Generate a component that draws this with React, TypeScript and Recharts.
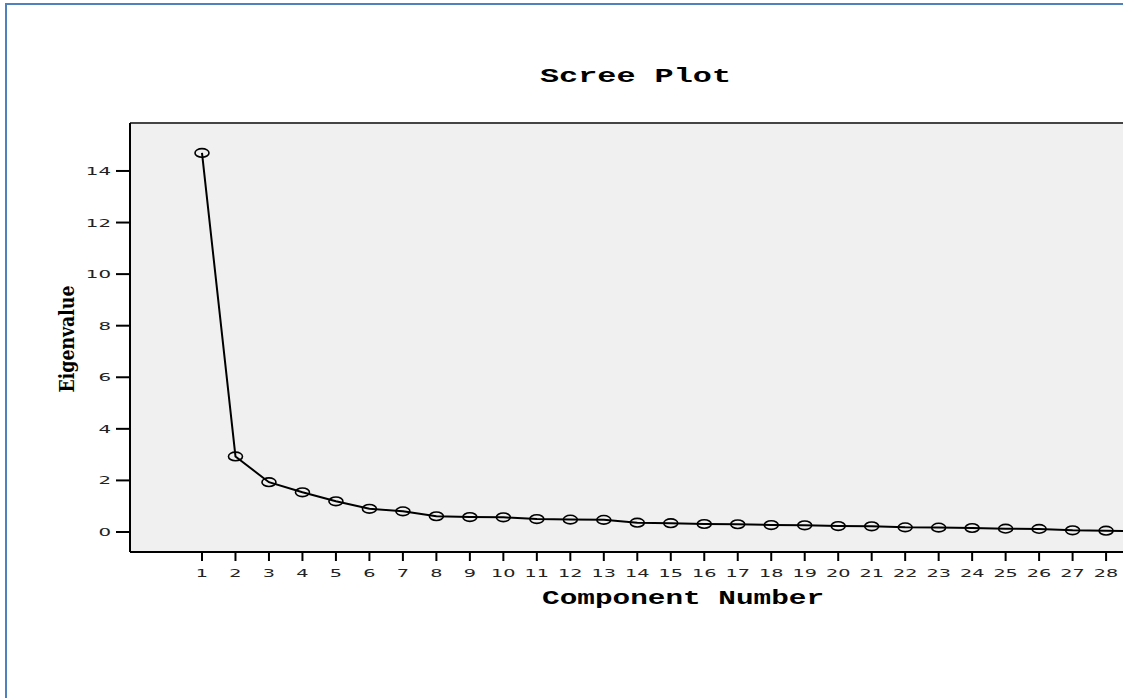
import React from "react";
import {
  LineChart,
  Line,
  XAxis,
  YAxis,
  ReferenceArea,
  ReferenceLine,
  Label,
} from "recharts";

// values
const componentNumbers = [
  1, 2, 3, 4, 5, 6, 7, 8, 9, 10, 11, 12, 13, 14, 15, 16, 17, 18, 19, 20, 21, 22,
  23, 24, 25, 26, 27, 28, 29,
];
const eigenvalues = [
  14.7, 2.93, 1.93, 1.54, 1.19, 0.9, 0.8, 0.61, 0.58, 0.57, 0.5, 0.48, 0.47,
  0.36, 0.34, 0.31, 0.3, 0.27, 0.26, 0.23, 0.22, 0.18, 0.17, 0.155, 0.13, 0.12,
  0.065, 0.05, 0.03,
];
// only the first 28 labels fit inside the picture
const xTicks = [
  1, 2, 3, 4, 5, 6, 7, 8, 9, 10, 11, 12, 13, 14, 15, 16, 17, 18, 19, 20, 21, 22,
  23, 24, 25, 26, 27, 28,
];
const yTicks = [0, 2, 4, 6, 8, 10, 12, 14];

const data = componentNumbers.map((c, i) => ({
  component: c,
  eigenvalue: eigenvalues[i],
}));

const X_MIN = -1.15;
const X_MAX = 31.88;
const Y_MIN = -0.776;
const Y_MAX = 15.86;

const tickFont = "'DejaVu Sans', Verdana, sans-serif";
const monoFont = "'Liberation Mono', 'Courier New', monospace";

const XTick = ({ x, y, payload }: any) => (
  <g transform={`translate(${x},${y + 14}) scale(1.75,1)`}>
    <text x={0} y={0} textAnchor="middle" fontFamily={tickFont} fontSize={11} fill="#222">
      {payload.value}
    </text>
  </g>
);

const YTick = ({ x, y, payload }: any) => (
  <g transform={`translate(${x - 3},${y + 4}) scale(1.8,1)`}>
    <text x={0} y={0} textAnchor="end" fontFamily={tickFont} fontSize={11} fill="#222">
      {payload.value}
    </text>
  </g>
);

const Dot = ({ cx, cy }: any) => {
  if (cx == null || cy == null) return null;
  return <ellipse cx={cx} cy={cy} rx={7} ry={4.3} fill="none" stroke="#000" strokeWidth={1.6} />;
};

const XLabel = ({ viewBox }: any) => {
  const cx = viewBox.x + viewBox.width / 2;
  return (
    <text
      x={cx}
      y={604}
      textAnchor="middle"
      fontFamily={monoFont}
      fontWeight="bold"
      fontSize={20}
      textLength={282}
      lengthAdjust="spacingAndGlyphs"
      fill="#000"
    >
      Component Number
    </text>
  );
};

const YLabel = () => (
  <text
    x={0}
    y={0}
    transform="translate(74,339) rotate(-90)"
    textAnchor="middle"
    fontFamily="'DejaVu Serif Condensed', 'DejaVu Serif', serif"
    fontStretch="condensed"
    fontWeight="bold"
    fontSize={20}
    textLength={107}
    lengthAdjust="spacingAndGlyphs"
    fill="#000"
  >
    Eigenvalue
  </text>
);

export default function App() {
  return (
    <div
      style={{
        position: "fixed",
        left: 0,
        top: 0,
        width: 1123,
        height: 698,
        overflow: "hidden",
        background: "#fff",
      }}
    >
      <style>{"html, body { overflow: hidden; margin: 0; }"}</style>
      <div style={{ position: "absolute", left: 0, top: 0 }}>
        {/* plot area runs past the right edge of the picture, as in the source */}
        <LineChart
          width={1123}
          height={698}
          data={data}
          margin={{ top: 123, right: -113, left: 0, bottom: 0 }}
          style={{ overflow: "hidden" }}
        >
          <ReferenceArea
            x1={X_MIN}
            x2={X_MAX}
            y1={Y_MIN}
            y2={Y_MAX}
            fill="#f0f0f0"
            fillOpacity={1}
            stroke="none"
            ifOverflow="visible"
          />
          <ReferenceLine y={Y_MAX} stroke="#444" strokeWidth={2} ifOverflow="visible" />
          <XAxis
            type="number"
            dataKey="component"
            domain={[X_MIN, X_MAX]}
            ticks={xTicks}
            allowDataOverflow
            height={146}
            tickSize={9}
            axisLine={{ stroke: "#000", strokeWidth: 2 }}
            tickLine={{ stroke: "#000", strokeWidth: 2 }}
            tick={<XTick />}
            interval={0}
          >
            <Label content={<XLabel />} />
          </XAxis>
          <YAxis
            type="number"
            domain={[Y_MIN, Y_MAX]}
            ticks={yTicks}
            allowDataOverflow
            width={130}
            tickSize={14}
            axisLine={{ stroke: "#000", strokeWidth: 2 }}
            tickLine={{ stroke: "#000", strokeWidth: 2 }}
            tick={<YTick />}
            interval={0}
          >
            <Label content={<YLabel />} />
          </YAxis>
          <Line
            type="linear"
            dataKey="eigenvalue"
            stroke="#000"
            strokeWidth={2}
            dot={<Dot />}
            activeDot={false}
            isAnimationActive={false}
          />
        </LineChart>
      </div>

      {/* blue frame of the pasted figure */}
      <div style={{ position: "absolute", left: 5, top: 3, width: 2, height: 695, background: "#4f81bd" }} />
      <div style={{ position: "absolute", left: 5, top: 3, width: 1118, height: 2, background: "#4f81bd" }} />

      <svg width={400} height={100} style={{ position: "absolute", left: 435, top: 0 }}>
        <text
          x={200.5}
          y={82}
          textAnchor="middle"
          fontFamily={monoFont}
          fontWeight="bold"
          fontSize={20}
          textLength={191}
          lengthAdjust="spacingAndGlyphs"
          fill="#000"
        >
          Scree Plot
        </text>
      </svg>
    </div>
  );
}
